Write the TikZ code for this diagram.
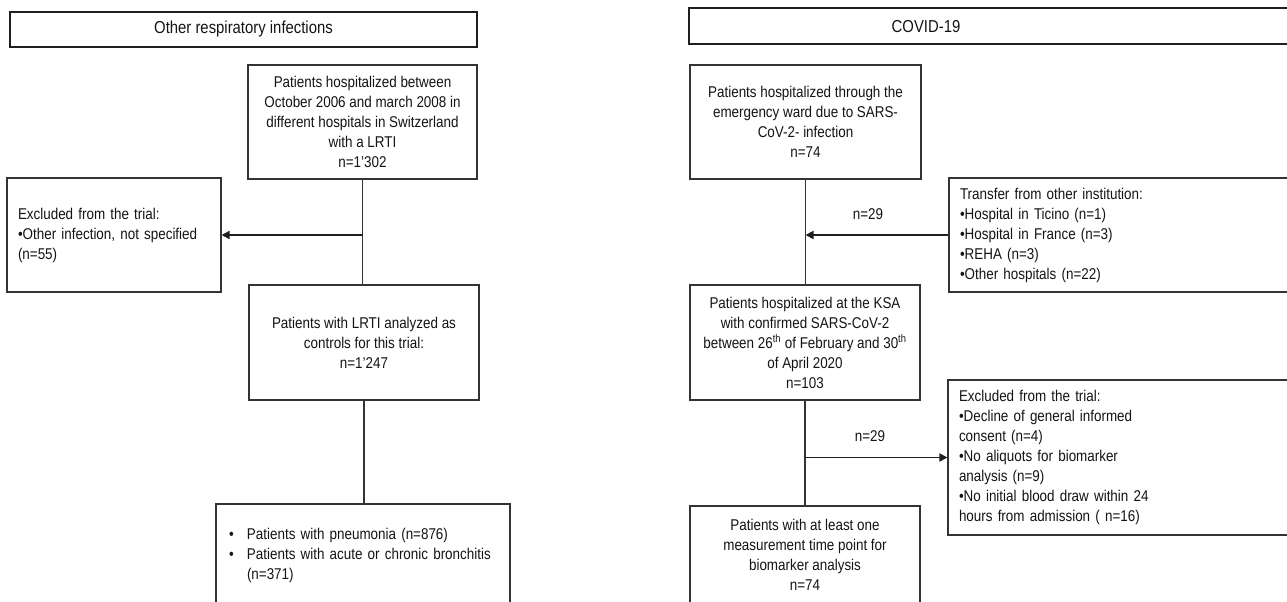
\documentclass[tikz,border=0pt]{standalone}
\usepackage{fontspec}
\setmainfont{Liberation Sans}[FakeStretch=0.86]
\usetikzlibrary{arrows.meta}
\begin{document}
\begin{tikzpicture}[x=1pt,y=-1pt,
  box/.style={draw=black!80, line width=1.1pt, inner sep=0pt, align=center,
    font=\fontsize{15.6}{20}\selectfont, text=black!92},
  lbox/.style={box, align=left, inner xsep=11pt},
  hdr/.style={draw=black!88, line width=1.8pt, inner sep=0pt,
    font=\fontsize{17.3}{20}\selectfont, text=black!92},
  hdrtext/.style={inner sep=0pt, font=\fontsize{17.3}{20}\selectfont, text=black!92},
  conn/.style={draw=black!80, line width=1.1pt},
  arr/.style={draw=black!88, line width=1.8pt, -{Triangle[length=8pt,width=8pt]}},
  lbl/.style={inner sep=0pt, font=\fontsize{15.6}{20}\selectfont, text=black!92}
]
\useasboundingbox (0,0) rectangle (1287,602);
\clip (0,0) rectangle (1287,602);
\fill[white] (0,0) rectangle (1287,602);

% headers
\node[hdr, minimum width=467pt, minimum height=35pt] (lh) at (243.5,29.5) {Other respiratory infections};
\node[hdr, minimum width=611pt, minimum height=36pt] (rh) at (994.5,26) {};
\node[hdrtext] (rht) at (926,27) {COVID-19};

% left column
\node[box, minimum width=229pt, minimum height=114pt] (lb1) at (362.5,122)
  {Patients hospitalized between\\October 2006 and march 2008 in\\different hospitals in Switzerland\\with a LRTI\\n=1'302};
\node[lbox, text width=192pt, minimum height=114pt] (ex1) at (114,235)
  {Excluded from the trial:\\•Other infection, not specified\\(n=55)};
\node[box, minimum width=230pt, minimum height=115pt] (lb2) at (364,342.5)
  {Patients with LRTI analyzed as\\controls for this trial:\\n=1'247};
\node[box, align=left, inner xsep=13pt, text width=268pt, minimum height=102pt] (lb3) at (363,555)
  {\makebox[18pt][l]{•}Patients with pneumonia (n=876)\\
   \makebox[18pt][l]{•}Patients with acute or chronic bronchitis\\
   \hspace*{18pt}(n=371)};

% right column
\node[box, minimum width=231pt, minimum height=114pt] (rb1) at (805.5,122)
  {Patients hospitalized through the\\emergency ward due to SARS-\\CoV-2- infection\\n=74};
\node[lbox, text width=329pt, minimum height=114pt] (tr) at (1124.5,235)
  {Transfer from other institution:\\•Hospital in Ticino (n=1)\\•Hospital in France (n=3)\\•REHA (n=3)\\•Other hospitals (n=22)};
\node[box, minimum width=230pt, minimum height=115pt] (rb2) at (805,342.5)
  {Patients hospitalized at the KSA\\with confirmed SARS-CoV-2\\between 26\textsuperscript{th} of February and 30\textsuperscript{th}\\of April 2020\\n=103};
\node[lbox, text width=330pt, minimum height=155pt] (ex2) at (1124,457.5)
  {Excluded from the trial:\\•Decline of general informed\\consent (n=4)\\•No aliquots for biomarker\\analysis (n=9)\\•No initial blood draw within 24\\hours from admission ( n=16)};
\node[box, minimum width=230pt, minimum height=98pt] (rb3) at (805,555)
  {Patients with at least one\\measurement time point for\\biomarker analysis\\n=74};

% connectors
\draw[conn] (lb1.south) -- (lb1.south |- lb2.north);
\draw[arr] (lb1.south |- ex1.east) -- (ex1.east);
\draw[conn] (lb2.south) -- (lb2.south |- lb3.north);

\draw[conn] (rb1.south) -- (rb1.south |- rb2.north);
\draw[arr] (tr.west) -- (tr.west -| rb1.south);
\draw[conn] (rb2.south) -- (rb2.south |- rb3.north);
\draw[arr] (rb2.south |- ex2.west) -- (ex2.west);

\node[lbl] (n1) at (868,214) {n=29};
\node[lbl] (n2) at (870,436) {n=29};
\end{tikzpicture}
\end{document}
